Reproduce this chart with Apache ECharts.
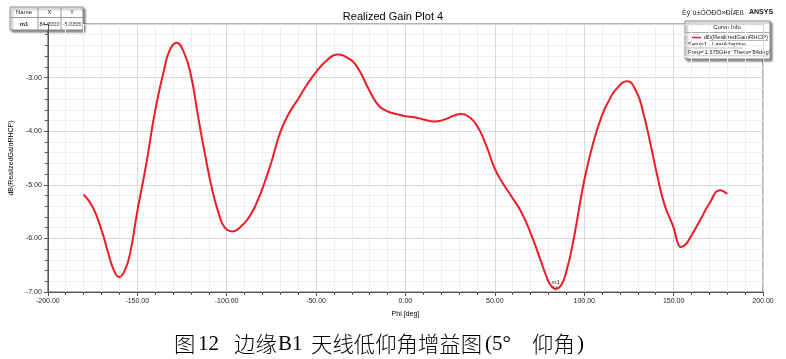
<!DOCTYPE html>
<html><head><meta charset="utf-8">
<script src="https://cdn.jsdelivr.net/npm/echarts@6/dist/echarts.min.js"></script>
<style>html,body{margin:0;padding:0;background:#fff}#c{width:786px;height:359px}</style>
</head><body><div id="c"></div>
<script>
const phi  = [-180,-175,-170,-166,-163,-160,-157,-154,-150,-145,-140,-135,-132,-128,-124,-120,-116,-112,-108,-104,-101,-97,-92,-87,-83,-79,-75,-70,-65,-60,-55,-50,-44,-38,-32,-27,-20,-15,-10,-5,0,5,10,16,22,27,31,35,40,45,50,55,60,65,70,75,79,81,84,87,90,94,100,105,110,114,118,124,129,133,137,141,145,150,152,154,156.5,159,165,170,176,180];
const gain = [-5.18,-5.41,-5.84,-6.30,-6.60,-6.72,-6.60,-6.28,-5.50,-4.62,-3.62,-2.86,-2.50,-2.35,-2.52,-2.95,-3.72,-4.45,-5.10,-5.58,-5.80,-5.87,-5.78,-5.58,-5.32,-4.98,-4.58,-4.02,-3.66,-3.40,-3.13,-2.90,-2.68,-2.57,-2.64,-2.80,-3.25,-3.52,-3.63,-3.68,-3.72,-3.74,-3.78,-3.82,-3.78,-3.71,-3.68,-3.72,-3.90,-4.25,-4.70,-5.00,-5.25,-5.52,-5.90,-6.35,-6.72,-6.86,-6.94,-6.88,-6.62,-6.03,-4.92,-4.22,-3.70,-3.42,-3.21,-3.07,-3.25,-3.65,-4.23,-4.85,-5.38,-5.80,-6.05,-6.16,-6.12,-6.00,-5.65,-5.35,-5.10,-5.17];
const marker = {name:'m1', x:84.0, y:-6.9396};
const caption = [['图',174,'cjk'],['12',198,'lat'],['边缘',234,'cjk'],['B1',278,'lat'],['天线低仰角增益图',311,'cjk'],['(5°',485,'lat'],['仰角',532,'cjk'],[')',577,'lat']];

const chart = echarts.init(document.getElementById('c'));
const lf = 'Liberation Sans';
const t = (text,x,y,o)=>({type:'text',style:Object.assign({text,x,y,fontFamily:lf,fontSize:6,fill:'#222',align:'center',verticalAlign:'middle'},o||{})});
const capG = caption.map(([s,x,k])=>t(s,x,344,{align:'left',fill:'#000',fontSize:k==='cjk'?21.4:21,fontFamily:k==='cjk'?'Noto Sans CJK SC':'Liberation Serif',fontWeight:k==='cjk'?300:'normal'}));
chart.setOption({
  animation:false,
  title:{text:'Realized Gain Plot 4', left:'center', top:6, textStyle:{fontFamily:lf,fontSize:11,fontWeight:'normal',color:'#000'}},
  grid:{left:45,right:23,top:24,bottom:67,show:true,borderColor:'#666',borderWidth:1},
  xAxis:{type:'value',min:-200,max:200,interval:50,
    name:'Phi [deg]',nameLocation:'middle',nameGap:19,nameTextStyle:{fontFamily:lf,fontSize:7,color:'#000'},
    axisLine:{onZero:false,lineStyle:{color:'#555'}},axisTick:{show:true,length:4,lineStyle:{color:'#555'}},
    minorTick:{show:true,splitNumber:5,length:3,lineStyle:{color:'#555'}},
    axisLabel:{fontFamily:lf,fontSize:7,color:'#222',margin:6,formatter:v=>v.toFixed(2)},
    splitLine:{lineStyle:{color:'#d8d8d8'}},minorSplitLine:{show:true,lineStyle:{color:'#eeeeee'}}},
  yAxis:{type:'value',min:-7,max:-2,interval:1,
    name:'dB(RealizedGainRHCP)',nameLocation:'middle',nameGap:28,nameRotate:90,nameTextStyle:{fontFamily:lf,fontSize:7,color:'#000'},
    axisLine:{show:true,onZero:false,lineStyle:{color:'#555'}},axisTick:{show:true,length:4,lineStyle:{color:'#555'}},
    minorTick:{show:true,splitNumber:5,length:3,lineStyle:{color:'#555'}},
    axisLabel:{fontFamily:lf,fontSize:7,color:'#222',margin:6,formatter:v=>v===-2?'':v.toFixed(2)},
    splitLine:{lineStyle:{color:'#d8d8d8'}},minorSplitLine:{show:true,lineStyle:{color:'#eeeeee'}}},
  series:[{type:'line',data:phi.map((p,i)=>[p,gain[i]]),smooth:0.5,showSymbol:false,
    lineStyle:{color:'#ee1c25',width:2},
    markPoint:{symbol:'circle',symbolSize:1,itemStyle:{color:'transparent'},
      label:{show:true,formatter:marker.name+'\n▽',position:'top',distance:-3,fontFamily:lf,fontSize:6,lineHeight:6,color:'#333'},
      data:[{coord:[marker.x,marker.y]}]}}],
  graphic:[
    {type:'rect',shape:{x:10,y:7,width:73,height:23},style:{fill:'#fff',stroke:'#888',lineWidth:1,shadowBlur:2,shadowColor:'rgba(0,0,0,0.45)',shadowOffsetX:2,shadowOffsetY:2}},
    {type:'line',shape:{x1:10,y1:17.5,x2:83,y2:17.5},style:{stroke:'#999'}},
    {type:'line',shape:{x1:38,y1:7,x2:38,y2:30},style:{stroke:'#999'}},
    {type:'line',shape:{x1:61,y1:7,x2:61,y2:30},style:{stroke:'#999'}},
    t('Name',24,12.5),t('X',49.5,12.5),t('Y',72,12.5),
    t('m1',24,24,{fontWeight:'bold'}),t(marker.x.toFixed(4),49.5,24,{fontSize:5.5}),t(marker.y.toFixed(4),72,24,{fontSize:5.5}),
    t('Èý´ú±ÓÖÐÖ»ÐÎÆß',713,13,{fontSize:7}),
    t('ANSYS',761,12,{fontSize:7,fontWeight:'bold'}),
    {type:'rect',shape:{x:685,y:21,width:85,height:38},style:{fill:'#fff',stroke:'#888',lineWidth:1,shadowBlur:2,shadowColor:'rgba(0,0,0,0.45)',shadowOffsetX:2,shadowOffsetY:2}},
    {type:'line',shape:{x1:685,y1:32.5,x2:770,y2:32.5},style:{stroke:'#aaa'}},
    t('Curve Info',727,27.5),
    {type:'line',shape:{x1:692,y1:37.5,x2:701,y2:37.5},style:{stroke:'#ee1c25',lineWidth:1.5}},
    t('dB(RealizedGainRHCP)',768,37,{align:'right'}),
    {type:'line',shape:{x1:709,y1:40.5,x2:768,y2:40.5},style:{stroke:'#777',lineWidth:0.5}},
    t('Setup1 : LastAdaptive',688,44.5,{align:'left'}),
    {type:'line',shape:{x1:688,y1:48,x2:743,y2:48},style:{stroke:'#777',lineWidth:0.5}},
    t("Freq='1.575GHz' Theta='84deg'",688,52.5,{align:'left',fontSize:5.8}),
    {type:'line',shape:{x1:688,y1:56,x2:768,y2:56},style:{stroke:'#777',lineWidth:0.5}}
  ].concat(capG)
});
</script></body></html>
